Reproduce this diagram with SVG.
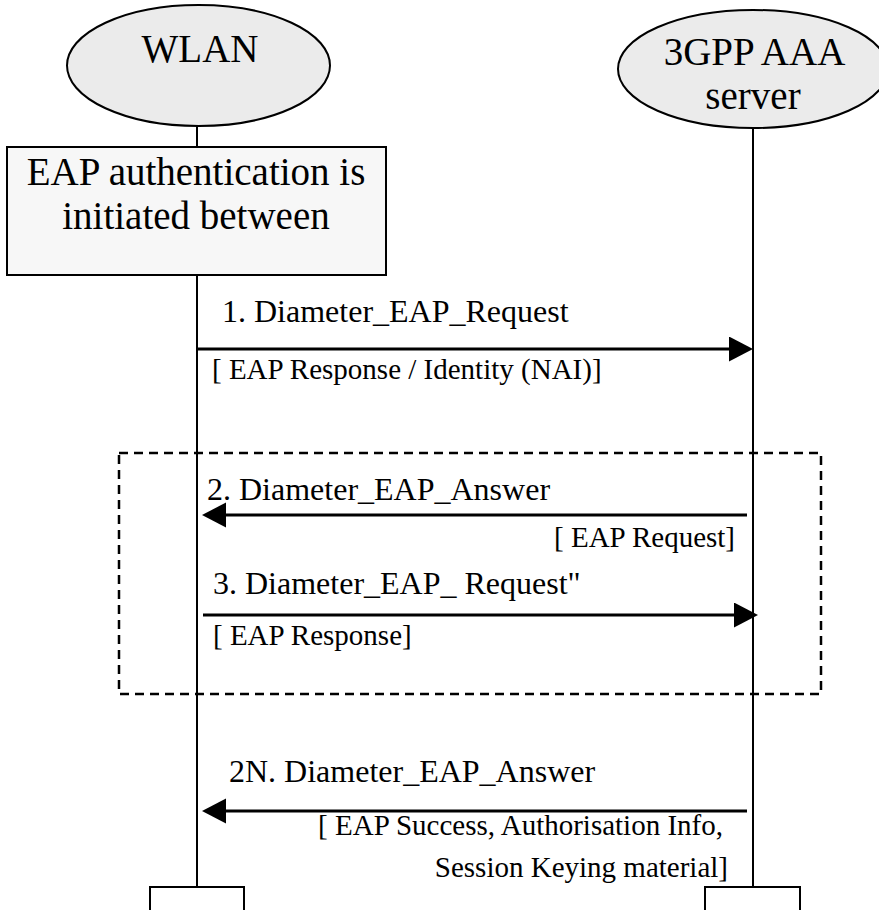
<svg xmlns="http://www.w3.org/2000/svg" width="879" height="910" viewBox="0 0 879 910">
<style>
text{font-family:"Liberation Serif","Times New Roman",serif;fill:#000}
.big{font-size:39px}
.lbl{font-size:32px}
.sub{font-size:29px}
.life{stroke:#000;stroke-width:2;fill:none}
.msg{stroke:#000;stroke-width:3;fill:none}
.ell{fill:#ebebeb;stroke:#000;stroke-width:2}
</style>
<defs>
<marker id="ah" markerUnits="userSpaceOnUse" markerWidth="26" markerHeight="26" refX="14" refY="12.5" orient="auto" viewBox="0 0 26 26">
<path d="M0,0 L24,12.5 L0,25 Z" fill="#000"/>
</marker>
</defs>
<rect width="879" height="910" fill="#fff"/>
<g id="lifelines">
<line class="life" x1="197" y1="126" x2="197" y2="147"/>
<line class="life" x1="197" y1="275" x2="197" y2="887"/>
<line class="life" x1="753" y1="128" x2="753" y2="887"/>
</g>
<g id="wlan">
<ellipse class="ell" cx="198.5" cy="65.5" rx="131.5" ry="60.5"/>
<text class="big" x="200" y="62" text-anchor="middle">WLAN</text>
</g>
<g id="aaa">
<ellipse class="ell" cx="753" cy="69" rx="135" ry="59"/>
<text class="big" x="754.5" y="65" text-anchor="middle">3GPP AAA</text>
<text class="big" x="753" y="109" text-anchor="middle">server</text>
</g>
<g id="eapbox">
<rect x="7" y="147" width="379" height="128" fill="#f7f7f7" stroke="#000" stroke-width="2"/>
<text class="big" x="196" y="185" text-anchor="middle">EAP authentication is</text>
<text class="big" x="196" y="229" text-anchor="middle">initiated between</text>
</g>
<g id="loop">
<rect x="119" y="453" width="702" height="241" fill="none" stroke="#000" stroke-width="2.5" stroke-dasharray="9 6"/>
</g>
<g id="connectors">
<line class="msg" x1="197" y1="349" x2="743" y2="349" marker-end="url(#ah)"/>
<line class="msg" x1="747" y1="515" x2="212" y2="515" marker-end="url(#ah)"/>
<line class="msg" x1="203" y1="615" x2="748" y2="615" marker-end="url(#ah)"/>
<line class="msg" x1="747" y1="811" x2="212" y2="811" marker-end="url(#ah)"/>
</g>
<g id="labels">
<text class="lbl" x="222" y="322">1. Diameter_EAP_Request</text>
<text class="sub" x="212" y="379">[ EAP Response / Identity (NAI)]</text>
<text class="lbl" x="207" y="500">2. Diameter_EAP_Answer</text>
<text class="sub" x="735" y="547" text-anchor="end">[ EAP Request]</text>
<text class="lbl" x="213" y="594">3. Diameter_EAP_ Request"</text>
<text class="sub" x="213" y="645">[ EAP Response]</text>
<text class="lbl" x="229" y="782">2N. Diameter_EAP_Answer</text>
<text class="sub" x="723" y="835" text-anchor="end">[ EAP Success, Authorisation Info,</text>
<text class="sub" x="728" y="877" text-anchor="end">Session Keying material]</text>
</g>
<g id="end-wlan">
<rect x="150" y="887" width="94" height="30" fill="#fff" stroke="#000" stroke-width="2"/>
</g>
<g id="end-aaa">
<rect x="705" y="887" width="95" height="30" fill="#fff" stroke="#000" stroke-width="2"/>
</g>
</svg>
